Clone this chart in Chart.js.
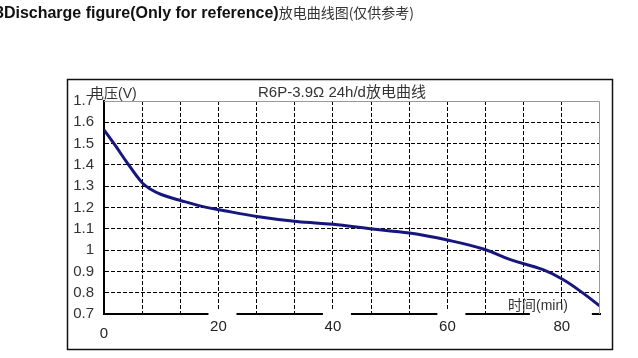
<!DOCTYPE html>
<html>
<head>
<meta charset="utf-8">
<script src="https://cdn.jsdelivr.net/npm/chart.js@4.4.0/dist/chart.umd.min.js"></script>
<style>
  html, body { margin: 0; padding: 0; background: #fff; }
  body { width: 638px; height: 358px; position: relative; overflow: hidden; }
  #myChart { position: absolute; left: 0; top: 0; }
  #heading {
    position: absolute; left: -5px; top: 2px; z-index: 2;
    font: bold 16px "Liberation Sans", Arial, sans-serif; color: #111; white-space: nowrap;
  }
  #heading span { font: 14px "Noto Sans CJK SC", sans-serif; color: #333; }
</style>
</head>
<body>
<canvas id="myChart" width="638" height="358"></canvas>
<div id="heading">3Discharge figure(Only for reference)<span>放电曲线图(仅供参考)</span></div>
<script>
// 放电数据 (min, V)
const timeMin = [0, 2, 4, 6.6, 8, 10, 13.5, 17.5, 20.8, 26.7, 33.7, 40, 46.5, 53.4, 60, 66.3, 71, 76.7, 80.2, 83.7, 86.6];
const voltage = [1.565, 1.49, 1.412, 1.318, 1.288, 1.261, 1.232, 1.203, 1.186, 1.158, 1.134, 1.121, 1.1, 1.08, 1.047, 1.005, 0.955, 0.908, 0.862, 0.798, 0.738];

const xTickLabels = [0, 20, 40, 60, 80];
const xGridCount = 13;
const xStep = 20 / 3;
const xMax = xGridCount * xStep;
const yTickValues = [0.7, 0.8, 0.9, 1.0, 1.1, 1.2, 1.3, 1.4, 1.5, 1.6, 1.7];

const chartTitle = 'R6P-3.9Ω 24h/d放电曲线';
const yTitle = '电压(V)';
const xTitle = '时间(min)';

const FONT = '"Liberation Sans", Arial, sans-serif';

// 自訂繪製: 外框, 標題, x 軸標籤
const decorPlugin = {
  id: 'decor',
  afterDraw(chart) {
    const ctx = chart.ctx;
    const a = chart.chartArea;
    const xs = chart.scales.x;
    ctx.save();

    // plot area top / right border
    ctx.strokeStyle = '#999';
    ctx.lineWidth = 1;
    ctx.beginPath();
    ctx.moveTo(a.left, a.top + 0.5);
    ctx.lineTo(a.right - 0.5, a.top + 0.5);
    ctx.lineTo(a.right - 0.5, a.bottom);
    ctx.stroke();

    // outer frame
    ctx.strokeStyle = '#111';
    ctx.lineWidth = 1.5;
    ctx.strokeRect(67.5, 79.5, 545, 270);

    // gaps in the x axis line under the labels
    ctx.fillStyle = '#fff';
    xTickLabels.forEach(v => {
      if (v === 0) return;
      const px = xs.getPixelForValue(v);
      if (v === 80) {
        ctx.fillRect(px - 32, a.bottom - 3, 62, 6);
      } else {
        ctx.fillRect(px - 10, a.bottom - 3, 28, 6);
      }
    });

    // x labels
    ctx.fillStyle = '#222';
    ctx.font = '15px ' + FONT;
    ctx.textAlign = 'center';
    ctx.textBaseline = 'middle';
    xTickLabels.forEach(v => {
      const px = xs.getPixelForValue(v);
      ctx.fillText(String(v), px, v === 0 ? a.bottom + 20 : a.bottom + 13);
    });

    // titles
    ctx.fillStyle = '#333';
    ctx.textAlign = 'left';
    ctx.textBaseline = 'alphabetic';
    ctx.font = '15px ' + FONT + ', "Noto Sans CJK SC"';
    ctx.fillText(chartTitle, 258, 97);
    ctx.font = '14px ' + FONT + ', "Noto Sans CJK SC"';
    ctx.fillText(yTitle, 90, 98);
    ctx.fillText(xTitle, 508, 310);

    ctx.restore();
  }
};

const myChart = new Chart(document.getElementById('myChart'), {
  type: 'line',
  data: {
    datasets: [{
      data: timeMin.map((t, i) => ({ x: t, y: voltage[i] })),
      borderColor: '#16167c',
      borderWidth: 3,
      pointRadius: 0,
      tension: 0.4,
      fill: false,
    }],
  },
  plugins: [decorPlugin],
  options: {
    responsive: false,
    animation: false,
    devicePixelRatio: 1,
    layout: { padding: { left: 0, top: 101, right: 38, bottom: 0 } },
    plugins: {
      legend: { display: false },
      tooltip: { enabled: false },
    },
    scales: {
      x: {
        type: 'linear',
        min: 0,
        max: xMax,
        afterBuildTicks: (scale) => {
          const t = [];
          for (let i = 0; i <= xGridCount; i++) t.push({ value: i * xStep });
          scale.ticks = t;
        },
        afterFit: (scale) => { scale.height = 44; },
        ticks: { display: false },
        grid: {
          drawTicks: false,
          lineWidth: 1,
          color: (c) => {
            const v = c.tick ? c.tick.value : 0;
            return (v < 0.01 || v > xMax - 0.01) ? 'rgba(0,0,0,0)' : '#000';
          },
        },
        border: { display: true, color: '#000', width: 2, dash: [4, 2] },
      },
      y: {
        min: 0.7,
        max: 1.7,
        afterBuildTicks: (scale) => {
          scale.ticks = yTickValues.map(v => ({ value: v }));
        },
        afterFit: (scale) => { scale.width = 104; },
        ticks: {
          color: '#333',
          font: { family: FONT, size: 15 },
          padding: 10,
          callback: (v) => (Math.abs(v - 1) < 1e-9 ? '1' : Number(v).toFixed(1)),
        },
        grid: {
          drawTicks: false,
          lineWidth: 1,
          color: (c) => {
            const v = c.tick ? c.tick.value : 0;
            return (v < 0.71 || v > 1.69) ? 'rgba(0,0,0,0)' : '#000';
          },
        },
        border: { display: true, color: '#000', width: 2, dash: [4, 2] },
      },
    },
  },
});
</script>
</body>
</html>
